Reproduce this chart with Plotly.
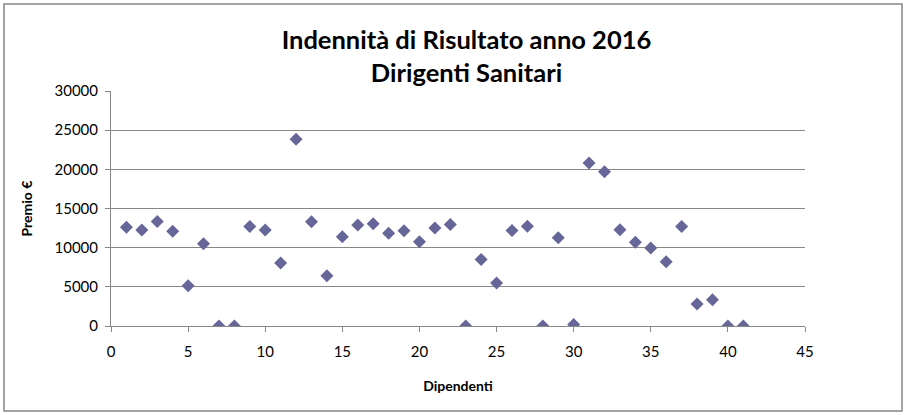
import plotly.graph_objects as go

dipendenti = list(range(1, 42))
premio = [12600, 12250, 13350, 12100, 5150, 10500, 0, 0, 12700, 12250,
          8050, 23850, 13300, 6400, 11400, 12900, 13050, 11850, 12150, 10750,
          12500, 12950, 0, 8500, 5500, 12200, 12750, 0, 11250, 200,
          20800, 19700, 12300, 10700, 9950, 8200, 12700, 2800, 3350, 0, 0]

title_text = "Indennità di Risultato anno 2016<br>Dirigenti Sanitari"
x_title = "Dipendenti"
y_title = "Premio €"

FONT = "Lato"
GRID = "#878787"

fig = go.Figure()
fig.add_trace(go.Scatter(
    x=dipendenti, y=premio, mode="markers",
    marker=dict(symbol="diamond", size=10, color="#666699",
                line=dict(width=0)),
    showlegend=False, hoverinfo="x+y"))

fig.update_layout(
    width=904, height=415,
    margin=dict(l=111, r=99, t=91, b=89),
    paper_bgcolor="white", plot_bgcolor="white",
    font=dict(family=FONT, size=15, color="black"),
    title=dict(text=title_text, x=0.516, xanchor="center",
               y=1 - 49 / 415, yanchor="top",
               font=dict(family=FONT, size=25.5, color="black", weight="bold")),
    xaxis=dict(range=[0, 45], dtick=5, tick0=0,
               showgrid=False, zeroline=False,
               showline=True, linecolor=GRID, linewidth=1,
               ticks="outside", ticklen=5, tickcolor=GRID,
               tickfont=dict(size=15), ticklabelstandoff=7,
               title=dict(text=x_title, standoff=22,
                          font=dict(size=14, weight="bold"))),
    yaxis=dict(range=[0, 30000], dtick=5000, tick0=0, tickformat="d",
               showgrid=True, gridcolor=GRID, gridwidth=1,
               zeroline=False,
               showline=True, linecolor=GRID, linewidth=1,
               ticks="outside", ticklen=5, tickcolor=GRID,
               tickfont=dict(size=15), ticklabelstandoff=4,
               title=dict(text=y_title, standoff=18,
                          font=dict(size=14, weight="bold"))),
    shapes=[dict(type="rect", xref="paper", yref="paper",
                 x0=-0.1542, x1=1.1398, y0=-0.3617, y1=1.3702,
                 line=dict(color=GRID, width=1.5), layer="below")],
)

fig.write_html("out.html", config={"displayModeBar": False},
               post_script="document.body.style.margin='0px';document.body.style.overflow='hidden';")
